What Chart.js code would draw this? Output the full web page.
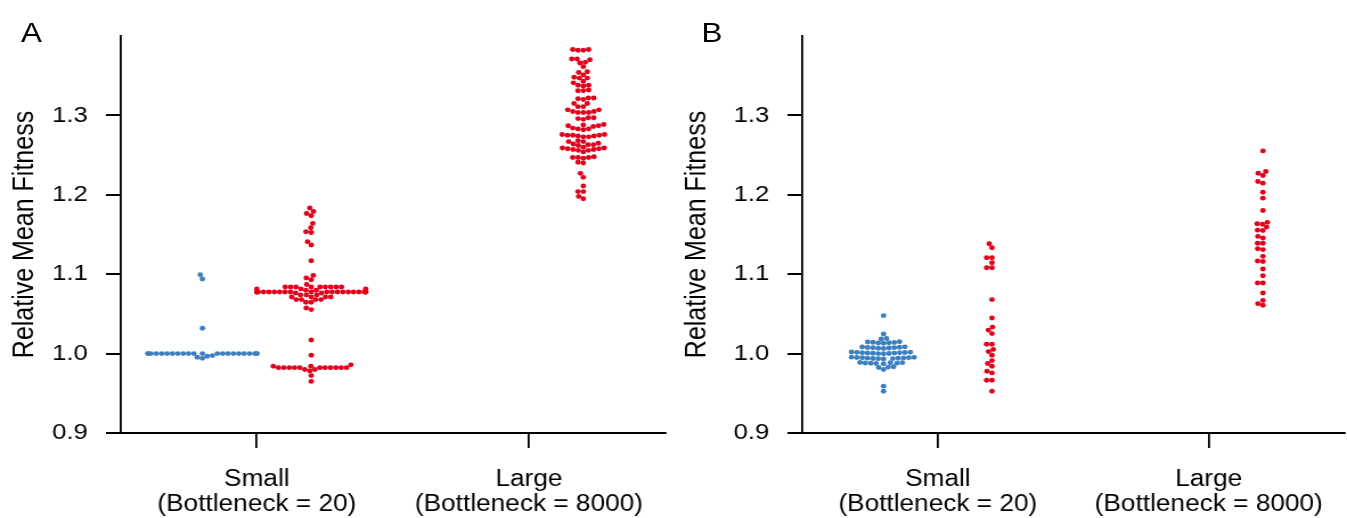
<!DOCTYPE html>
<html>
<head>
<meta charset="utf-8">
<script src="https://cdn.jsdelivr.net/npm/chart.js@4.4.1/dist/chart.umd.min.js"></script>
<style>
  html,body{margin:0;padding:0;background:#fff;overflow:hidden;}
  #wrap{position:relative;width:1182px;height:518px;transform:scaleX(1.1396);transform-origin:0 0;}
  canvas{position:absolute;top:0;}
  .lab{position:absolute;font-family:"Liberation Sans",Arial,sans-serif;font-size:27.5px;color:#000;line-height:1;}
</style>
</head>
<body>
<div id="wrap">
  <canvas id="cA" width="590" height="518" style="left:0px"></canvas>
  <canvas id="cB" width="592" height="518" style="left:590px"></canvas>
  <div class="lab" style="left:18.5px;top:18.5px">A</div>
  <div class="lab" style="left:615.5px;top:18.5px">B</div>
</div>
<script>
// ---------------- data ----------------
const categories = ['Small', 'Large'];
const categoryLabels = [['Small', '(Bottleneck = 20)'], ['Large', '(Bottleneck = 8000)']];
const yTicks = [0.9, 1.0, 1.1, 1.2, 1.3];
const yTitle = 'Relative Mean Fitness';

// Panel A
const aSmallBlue = [1.0994, 1.094, 1.032, 0.994, 0.9954, 0.9966, 0.9975,
  1.0, 1.0, 1.0, 1.0, 1.0, 1.0, 1.0, 1.0, 1.0, 1.0, 1.0, 1.0, 1.0, 1.0, 1.0, 1.0,
  1.0, 1.0, 1.0, 1.0, 1.0, 1.0];
const aSmallRed = [1.1833, 1.179, 1.1765, 1.1736, 1.164, 1.1585, 1.1535, 1.1526, 1.141, 1.1367, 1.117,
  1.0985, 1.0952, 1.093, 1.087,
  1.0839, 1.0839, 1.0839, 1.0839, 1.0839, 1.0839, 1.0839, 1.0839, 1.0839,
  1.0815, 1.0815, 1.0815, 1.0797, 1.0797,
  1.0775, 1.0775, 1.0775, 1.0775, 1.0775, 1.0775, 1.0775, 1.0775, 1.0775, 1.0775, 1.0775,
  1.0775, 1.0775, 1.0775, 1.0775, 1.0775, 1.0775, 1.0775, 1.0775, 1.0775, 1.0775, 1.0775,
  1.0763, 1.0763, 1.0738, 1.0738, 1.0738, 1.0713, 1.0713, 1.0713, 1.0713,
  1.068, 1.068, 1.068, 1.068, 1.0646, 1.0646, 1.0575, 1.0554,
  1.0172, 0.998, 0.9858, 0.984, 0.984,
  0.9823, 0.9823, 0.9823, 0.9823, 0.9823, 0.9823, 0.9823, 0.9823, 0.9823, 0.9823, 0.9823,
  0.980, 0.980, 0.978, 0.9723, 0.965];
const aLargeRed = [1.383, 1.383, 1.382, 1.382,
  1.371, 1.367, 1.366, 1.370, 1.371, 1.3614, 1.355, 1.354,
  1.351, 1.347, 1.348, 1.347, 1.343, 1.341, 1.338, 1.338, 1.337,
  1.332, 1.331, 1.331, 1.322, 1.320, 1.321, 1.322, 1.315, 1.315,
  1.307, 1.3036, 1.3036, 1.307, 1.311, 1.311, 1.3036, 1.305, 1.305,
  1.297, 1.295, 1.296, 1.297,
  1.2885, 1.287, 1.284, 1.282, 1.286, 1.283, 1.283, 1.287, 1.288,
  1.276, 1.276, 1.273, 1.273, 1.275, 1.274, 1.274, 1.275, 1.275,
  1.267, 1.265, 1.264, 1.262, 1.263, 1.263, 1.267, 1.268,
  1.258, 1.257, 1.259, 1.256, 1.254, 1.256, 1.257, 1.258, 1.259, 1.260,
  1.247, 1.246, 1.247, 1.247, 1.248, 1.241, 1.240,
  1.227, 1.222, 1.211, 1.204, 1.204, 1.198, 1.195];

// Panel B
const bSmallBlue = [1.0478, 1.0247, 1.0190, 1.0183,
  1.0150, 1.0147, 1.0143, 1.0140, 1.0137, 1.0133, 1.0130,
  1.0085, 1.0083, 1.0080, 1.0077, 1.0075, 1.0073, 1.0070, 1.0067, 1.0065,
  1.0020, 1.0018, 1.0016, 1.0014, 1.0012, 1.0010, 1.0008, 1.0006, 1.0004, 1.0002, 1.0000, 0.9998,
  0.9955, 0.9953, 0.9951, 0.9949, 0.9947, 0.9945, 0.9943, 0.9941, 0.9939, 0.9937, 0.9935, 0.9933,
  0.9888, 0.9886, 0.9884, 0.9882, 0.9880, 0.9878, 0.9876, 0.9873,
  0.9835, 0.9830, 0.9825,
  0.980, 0.959, 0.9526];
const bSmallRed = [1.1384, 1.1333, 1.1208, 1.1208, 1.1145, 1.1082, 1.1082, 1.068,
  1.0449, 1.0334, 1.0296, 1.0252, 1.0117, 1.0117, 1.0053, 1.0025, 0.998, 0.9912, 0.9876, 0.984,
  0.9778, 0.9757, 0.9665, 0.9665, 0.9526];
const bLargeRed = [1.2553, 1.2293, 1.2272, 1.2243, 1.2168, 1.2147, 1.2033, 1.1958, 1.1803,
  1.1653, 1.163, 1.1635, 1.1593, 1.155, 1.1555, 1.1476, 1.1455, 1.139, 1.139, 1.1321, 1.131,
  1.1225, 1.1167, 1.116, 1.1065, 1.098, 1.0889, 1.0889, 1.0763, 1.067, 1.0629, 1.0608];

const BLUE = '#3a7fc0';
const RED = '#e2001a';
const FONT = "'Liberation Sans', Arial, sans-serif";

const panelA = [
  {values: aSmallBlue, cat: 0, hue: -1, color: BLUE},
  {values: aSmallRed, cat: 0, hue: 1, color: RED},
  {values: aLargeRed, cat: 1, hue: 1, color: RED}
];
const panelB = [
  {values: bSmallBlue, cat: 0, hue: -1, color: BLUE},
  {values: bSmallRed, cat: 0, hue: 1, color: RED},
  {values: bLargeRed, cat: 1, hue: 1, color: RED}
];

// ------------- beeswarm layout (pixel space) -------------
function beeswarm(ys, d, limit) {
  const order = ys.map((y, i) => i).sort((a, b) => ys[b] - ys[a]);
  const placed = [];
  const out = new Array(ys.length);
  for (const i of order) {
    const y = ys[i];
    const nb = placed.filter(p => Math.abs(p.y - y) < d);
    const cands = [0];
    for (const p of nb) {
      const dx = Math.sqrt(d * d - (p.y - y) * (p.y - y));
      cands.push(p.x - dx, p.x + dx);
    }
    cands.sort((a, b) => Math.abs(a) - Math.abs(b));
    let x = cands[0];
    for (const c of cands) {
      if (nb.every(p => (p.x - c) * (p.x - c) + (p.y - y) * (p.y - y) >= d * d - 0.01)) { x = c; break; }
    }
    placed.push({x, y});
    out[i] = Math.max(-limit, Math.min(limit, x));
  }
  return out;
}

function makePanel(id, groups, yAxisWidth, rightPad) {
  const ctx = document.getElementById(id).getContext('2d');
  const chart = new Chart(ctx, {
    type: 'scatter',
    data: {
      datasets: groups.map(g => ({
        data: g.values.map(v => ({x: g.cat + 0.2 * g.hue, y: v})),
        backgroundColor: g.color,
        borderWidth: 0,
        pointRadius: 2.45,
        pointHoverRadius: 2.45
      }))
    },
    options: {
      responsive: false,
      animation: false,
      devicePixelRatio: 1,
      layout: {padding: {top: 36, right: rightPad, left: 0, bottom: 0}},
      plugins: {legend: {display: false}, tooltip: {enabled: false}},
      scales: {
        x: {
          type: 'linear', min: -0.5, max: 1.5,
          afterBuildTicks: s => { s.ticks = categories.map((c, i) => ({value: i})); },
          afterFit: s => { s.height = 85; },
          ticks: {
            callback: v => categoryLabels[v],
            color: '#000', font: {family: FONT, size: 23, lineHeight: 1.1},
            padding: 19, maxRotation: 0, autoSkip: false
          },
          grid: {drawOnChartArea: false, drawTicks: true, tickLength: 15, color: '#000', lineWidth: 1.8},
          border: {display: true, color: '#000', width: 2}
        },
        y: {
          min: 0.9, max: 1.4,
          afterBuildTicks: s => { s.ticks = yTicks.map(v => ({value: v})); },
          afterFit: s => { s.width = yAxisWidth; },
          ticks: {
            callback: v => Number(v).toFixed(1),
            color: '#000', font: {family: FONT, size: 22.5}, padding: 16
          },
          title: {display: true, text: yTitle, color: '#000', font: {family: FONT, size: 25}, padding: {top: 7, bottom: 0}},
          grid: {drawOnChartArea: false, drawTicks: true, tickLength: 13, color: '#000', lineWidth: 2},
          border: {display: true, color: '#000', width: 1.8}
        }
      }
    }
  });
  // compute swarm offsets with the chart's own scales
  const xs = chart.scales.x, ys = chart.scales.y;
  const pxUnit = xs.getPixelForValue(1) - xs.getPixelForValue(0);
  groups.forEach((g, k) => {
    const pys = g.values.map(v => ys.getPixelForValue(v));
    const offs = beeswarm(pys, 4.7, 0.2 * pxUnit);
    const cx = xs.getPixelForValue(g.cat + 0.2 * g.hue);
    chart.data.datasets[k].data = g.values.map((v, i) => ({x: xs.getValueForPixel(cx + offs[i]), y: v}));
  });
  chart.update();
  return chart;
}

makePanel('cA', panelA, 106, 6.5);
makePanel('cB', panelB, 114, 0);
</script>
</body>
</html>
